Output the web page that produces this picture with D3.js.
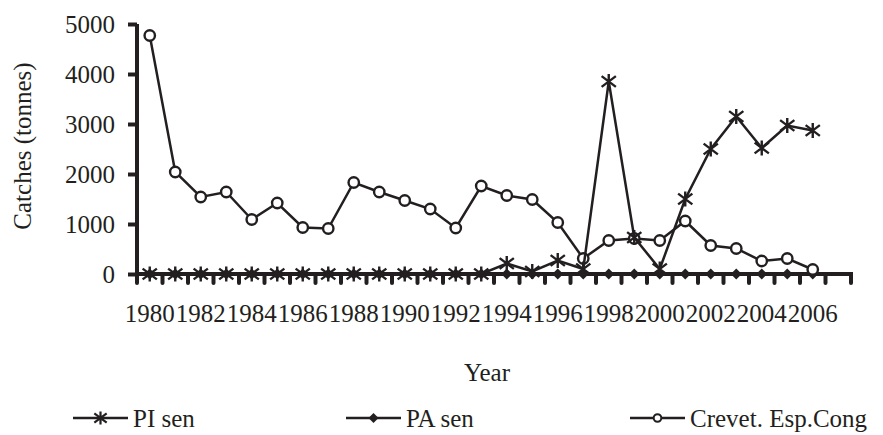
<!DOCTYPE html>
<html><head><meta charset="utf-8">
<script src="https://cdn.jsdelivr.net/npm/d3@7"></script>
<style>
html,body{margin:0;padding:0;background:#fff;}
svg text{font-family:"Liberation Serif","Times New Roman",serif !important;fill:#231f20;}
</style></head>
<body><svg id="c" width="883" height="435"></svg>
<script>
const years = d3.range(1980, 2008);
const yearLabels = ["1980","1982","1984","1986","1988","1990","1992","1994","1996","1998","2000","2002","2004","2006"];
const yTicks = [0,1000,2000,3000,4000,5000];
const dataYears = d3.range(1980, 2007);
const piSen = [0,0,0,0,0,0,0,0,0,0,0,0,0,0,210,50,270,100,3850,730,100,1500,2500,3150,2520,2970,2870];
const paSen = [0,0,0,0,0,0,0,0,0,0,0,0,0,0,0,0,0,0,0,0,0,0,0,0,0,0,0];
const crevet = [4770,2040,1540,1640,1090,1420,930,910,1830,1640,1470,1300,920,1760,1570,1490,1030,310,670,710,670,1060,570,510,260,310,90];
const seriesNames = ["PI sen","PA sen","Crevet. Esp.Cong"];

const ink = "#231f20";
const svg = d3.select("#c");
const x = d3.scaleBand().domain(years).range([137, 851]);
const y = d3.scaleLinear().domain([0, 5000]).range([274, 24]);
const cx = d => x(d) + x.bandwidth()/2;

// axes
const yAxis = svg.append("g").attr("transform","translate(137,0)")
  .call(d3.axisLeft(y).tickValues(yTicks).tickSize(9).tickPadding(13).tickFormat(d3.format("d")));
yAxis.attr("font-family",null);
yAxis.select(".domain").attr("stroke",ink).attr("stroke-width",4).attr("d","M0,"+y(5000)+"V"+y(0));
yAxis.selectAll(".tick line").attr("stroke",ink).attr("stroke-width",4);
yAxis.selectAll(".tick text").attr("font-size",25).attr("dy","0.34em");

const xg = svg.append("g").attr("transform","translate(0,274)");
xg.append("line").attr("x1",135).attr("x2",853).attr("y1",0).attr("y2",0).attr("stroke",ink).attr("stroke-width",4);
const bounds = years.map(d => x(d)).concat([x(years[years.length-1]) + x.bandwidth()]);
xg.selectAll("line.tk").data(bounds).enter().append("line").attr("class","tk")
  .attr("x1",d=>d).attr("x2",d=>d).attr("y1",0).attr("y2",9)
  .attr("stroke",ink).attr("stroke-width",4).attr("stroke-linecap","round");
xg.selectAll("text.xl").data(yearLabels).enter().append("text").attr("class","xl")
  .attr("x",d=>cx(+d)).attr("y",48).attr("text-anchor","middle").attr("font-size",25).text(d=>d);

// axis titles
svg.append("text").attr("transform","translate(31,146) rotate(-90)").attr("text-anchor","middle")
  .attr("font-size",25).text("Catches (tonnes)");
svg.append("text").attr("x",487).attr("y",381).attr("text-anchor","middle").attr("font-size",25).text("Year");

const line = d3.line().x((d,i)=>cx(dataYears[i])).y(d=>y(d));

function asterisk(g, s, sw){
  const dx = s*0.95, dy = s*0.72;
  g.append("path").attr("d", `M${-dx},${-dy}L${dx},${dy}M${dx},${-dy}L${-dx},${dy}M0,${-s}L0,${s}`)
    .attr("stroke",ink).attr("stroke-width",sw).attr("fill","none");
}
function diamond(g, s){
  g.append("path").attr("d",`M0,${-s}L${s},0L0,${s}L${-s},0Z`).attr("fill",ink);
}
function circle(g, r, sw){
  g.append("circle").attr("r",r).attr("fill","#fff").attr("stroke",ink).attr("stroke-width",sw);
}

const lw = 2.5;
// PA sen
svg.append("path").datum(paSen).attr("d",line).attr("fill","none").attr("stroke",ink).attr("stroke-width",lw);
svg.selectAll("g.pa").data(paSen).enter().append("g").attr("class","pa")
  .attr("transform",(d,i)=>`translate(${cx(dataYears[i])},${y(d)})`).each(function(){ diamond(d3.select(this),5.5); });
// Crevet
svg.append("path").datum(crevet).attr("d",line).attr("fill","none").attr("stroke",ink).attr("stroke-width",lw);
svg.selectAll("g.cr").data(crevet).enter().append("g").attr("class","cr")
  .attr("transform",(d,i)=>`translate(${cx(dataYears[i])},${y(d)})`).each(function(){ circle(d3.select(this),5.2,2.4); });
// PI sen
svg.append("path").datum(piSen).attr("d",line).attr("fill","none").attr("stroke",ink).attr("stroke-width",lw);
svg.selectAll("g.pi").data(piSen).enter().append("g").attr("class","pi")
  .attr("transform",(d,i)=>`translate(${cx(dataYears[i])},${y(d)})`).each(function(){ asterisk(d3.select(this),7.5,2.4); });

// legend
const legX = [73, 346, 630];
const lg = svg.selectAll("g.lg").data(seriesNames).enter().append("g").attr("class","lg")
  .attr("transform",(d,i)=>`translate(${legX[i]},418)`);
lg.append("line").attr("x1",0).attr("x2",55).attr("stroke",ink).attr("stroke-width",lw);
lg.each(function(d,i){
  const m = d3.select(this).append("g").attr("transform","translate(27.5,0)");
  if(i===0) asterisk(m,6.5,2.2); else if(i===1) diamond(m,5); else circle(m,3.8,2);
});
lg.append("text").attr("x",60).attr("y",0).attr("dy","0.34em").attr("font-size",25).text(d=>d);
</script></body></html>
